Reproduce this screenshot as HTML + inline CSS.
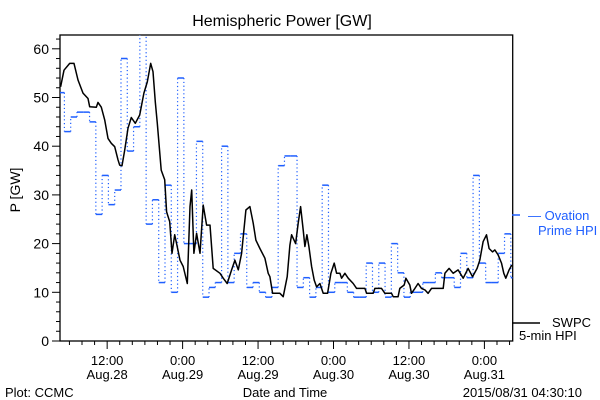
<!DOCTYPE html>
<html><head><meta charset="utf-8"><style>
html,body{margin:0;padding:0;background:#fff;}
svg{display:block;font-family:"Liberation Sans",sans-serif;}
</style></head><body>
<svg id="chart" width="600" height="400" viewBox="0 0 600 400">
<rect width="600" height="400" fill="#fff"/>
<text x="282" y="26" font-size="16" text-anchor="middle">Hemispheric Power [GW]</text>
<text transform="translate(20,190) rotate(-90)" font-size="14" text-anchor="middle">P [GW]</text>
<text x="285" y="397" font-size="13" text-anchor="middle">Date and Time</text>
<text x="5" y="397" font-size="13">Plot: CCMC</text>
<text x="582" y="397" font-size="13" text-anchor="end">2015/08/31 04:30:10</text>
<g id="axes"></g>
<g id="marks"></g>
<line x1="512" y1="215" x2="520" y2="215" stroke="#1f5fff" stroke-width="1.5"/>
<text x="528" y="220" font-size="13" fill="#1f5fff">— Ovation</text>
<text x="538" y="235" font-size="13" fill="#1f5fff">Prime HPI</text>
<line x1="512" y1="323" x2="540" y2="323" stroke="#000" stroke-width="1.5"/>
<text x="552" y="327" font-size="13">SWPC</text>
<text x="519" y="340" font-size="13">5-min HPI</text>
</svg>
<script>
const ovationValues = [51,43,46,47,47,45,26,34,28,31,58,39,44,64,24,29,12,32,10,54,20,20,41,9,11,12,40,12,18,22,11,12,10,9,11,36,38,38,11,13,9,11,32,10,12,12,10,9,9,16,10,16,9,20,14,9,10,10,12,12,14,13,13,11,18,13,34,16,12,12,18,22,13];
const swpcHours = [0.1,0.64,1.54,2.23,2.86,3.66,4.45,4.72,5.77,6.04,6.57,7.11,7.63,8.16,8.7,9.22,9.49,9.86,10.29,10.81,11.34,11.97,12.67,13.35,13.88,14.42,14.79,15.15,15.47,16.1,16.65,16.96,17.44,17.81,18.24,18.55,19.08,19.6,20.24,20.67,20.94,21.3,21.73,22.26,22.78,23.32,23.85,24.37,25.44,25.96,26.6,27.3,27.82,28.35,28.89,29.57,30.21,30.73,31.16,31.8,32.59,33.12,33.39,33.82,34.98,35.5,36.14,36.57,36.84,37.47,37.89,38.27,38.68,38.95,39.27,39.59,40.02,40.43,40.81,41.34,41.86,42.56,43.08,43.61,43.99,44.52,44.79,45.31,45.83,46.63,47.17,48.49,48.76,49.81,50.08,51.14,51.67,52.73,52.99,53.78,54.05,54.74,55.01,55.64,55.91,56.44,56.96,57.5,58.03,58.55,59.09,60.94,61.21,61.89,62.53,63.32,64.12,64.91,65.61,66.34,66.77,67.3,67.84,68.25,68.79,69.16,69.68,70.22,70.59,70.91,71.43,71.86];
const swpcValues = [52.2,55.6,57,57,53.6,50.9,49.8,48.1,48,49,48,45.4,41.6,40.6,39.9,37.2,36.1,36,39.2,43.7,45.9,44.7,46.4,50.9,53.2,57,55.3,49.1,44.7,35.1,33.1,26.5,24.5,18,21.8,20,16.6,15.3,11.8,27.6,31,18,22.1,18,27.9,23.8,23.8,14.9,13.9,12.9,11.8,14.6,16.6,14.6,18,26.9,27.6,24.2,20.7,19,17,13.9,13.2,9.8,9.8,9.1,13.2,19.7,21.8,20,24.2,27.6,22.8,19.4,21.8,19.4,15.3,12.5,11.1,11.8,9.8,9.8,13.9,16,13.9,13.9,12.9,13.9,12.9,11.8,10.8,10.8,9.8,9.8,10.8,10.8,9.8,9.8,9.1,9.1,10.8,11.5,12.9,11.5,9.8,10.8,11.8,10.8,10.5,9.8,10.8,10.8,13.9,14.9,13.9,14.6,12.9,14.9,13.2,14.9,16.6,20.4,21.8,19,18.3,18.7,17.7,16,13.9,12.9,14.6,15.6];
const yTicks = [0,10,20,30,40,50,60];
const xMajorHours = [7.5,19.5,31.5,43.5,55.5,67.5];
const xTimeLabels = ["12:00","0:00","12:00","0:00","12:00","0:00"];
const xDateLabels = ["Aug.28","Aug.29","Aug.29","Aug.30","Aug.30","Aug.31"];

const NS="http://www.w3.org/2000/svg";
const L=60,R=512.7,T=35,B=341,SPAN=72,YPX=4.87;
const xs=t=>L+t*(R-L)/SPAN;
const ys=v=>B-v*YPX;
const axes=document.getElementById('axes'),marks=document.getElementById('marks');
function mk(tag,attrs,parent){const e=document.createElementNS(NS,tag);for(const k in attrs)e.setAttribute(k,attrs[k]);parent.appendChild(e);return e;}

const frame=mk('rect',{x:L,y:T,width:R-L,height:B-T,fill:'none',stroke:'#000','stroke-width':1.3},axes);


for(let v=0;v<=62;v+=2){
  const major=v%10===0;
  const tk=mk('line',{x1:L-(major?8:4),x2:L,y1:ys(v),y2:ys(v),stroke:'#000','stroke-width':1},axes);
  
  
}
yTicks.forEach(v=>{
  const t=mk('text',{x:L-11,y:ys(v)+5,'font-size':14,'text-anchor':'end'},axes);
  t.textContent=v;
  
  
});
for(let h=1.5;h<SPAN;h+=2){
  const major=xMajorHours.includes(h);
  const tk=mk('line',{x1:xs(h),x2:xs(h),y1:B,y2:B+(major?8:4),stroke:'#000','stroke-width':1},axes);
  
  
}
xMajorHours.forEach((h,i)=>{
  const a=mk('text',{x:xs(h),y:365,'font-size':13,'text-anchor':'middle'},axes);
  a.textContent=xTimeLabels[i];
  
  
  const b=mk('text',{x:xs(h),y:379,'font-size':13,'text-anchor':'middle'},axes);
  b.textContent=xDateLabels[i];
  
  
});

const defs=mk('defs',{},marks);
const cp=mk('clipPath',{id:'clip'},defs);
mk('rect',{x:L,y:T,width:R-L,height:B-T},cp);
const g=mk('g',{'clip-path':'url(#clip)'},marks);



ovationValues.forEach((v,k)=>{
  const t0=Math.max(0,k-0.3),t1=Math.min(SPAN,k+0.7);
  const s=mk('line',{x1:xs(t0),x2:xs(t1),y1:ys(v),y2:ys(v),stroke:'#1f5fff','stroke-width':1.5},g);
  
  
  if(k>0){
    const c=mk('line',{x1:xs(t0),x2:xs(t0),y1:ys(ovationValues[k-1]),y2:ys(v),stroke:'#1f5fff','stroke-width':1.2,'stroke-dasharray':'1.2 2.6'},g);
    
    
  }
});
const pts=swpcHours.map((h,i)=>xs(h).toFixed(1)+','+ys(swpcValues[i]).toFixed(1)).join(' ');
const pl=mk('polyline',{points:pts,fill:'none',stroke:'#000','stroke-width':1.5,'stroke-linejoin':'round'},g);


</script>
</body></html>
